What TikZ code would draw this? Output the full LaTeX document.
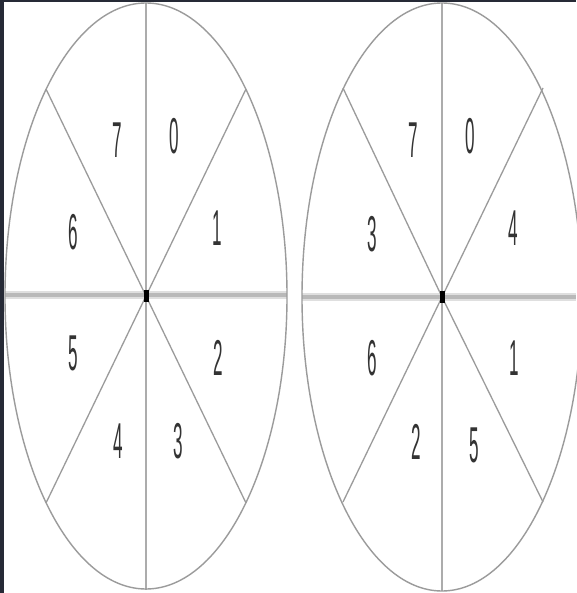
\documentclass[tikz,border=0pt]{standalone}
\usepackage{fontspec}
\setmainfont{Liberation Sans}
\definecolor{frame}{RGB}{38,42,54}
\definecolor{rim}{RGB}{155,155,155}
\definecolor{axis}{RGB}{172,172,172}
\begin{document}
\begin{tikzpicture}[x=1pt,y=-1pt,
  rimline/.style={draw=rim,line width=1.4pt},
  spoke/.style={draw=rim,line width=1.3pt},
  vline/.style={draw=axis,line width=2pt},
  hband/.style={draw=gray!25,line width=8pt},
  hcore/.style={draw=gray!55,line width=4pt},
  hub/.style={fill=black,draw=none,minimum width=5pt,minimum height=12pt,inner sep=0pt},
  digit/.style={font=\fontsize{18}{18}\selectfont,text=black!80,xscale=0.95,yscale=2.8,transform shape,inner sep=0pt}]
  \useasboundingbox (0,0) rectangle (576,593);
  \fill[white] (0,0) rectangle (576,593);
  % left disc
  \coordinate (cl) at (146,296);
  \draw[hband] (5,295) -- (287,295);
  \draw[hcore] (5,295) -- (287,295);
  \draw[vline] (146,3) -- (146,590);
  \draw[spoke] (cl) -- ++(-100,-207);
  \draw[spoke] (cl) -- ++(100,-207);
  \draw[spoke] (cl) -- ++(-100,207);
  \draw[spoke] (cl) -- ++(100,207);
  \draw[rimline] (cl) ellipse [x radius=141pt,y radius=293pt];
  \node[hub] (hl) at (cl) {};
  \node[digit] (l7) at (117,140) {7};
  \node[digit] (l0) at (174,136) {0};
  \node[digit] (l6) at (73,232) {6};
  \node[digit] (l1) at (217,228) {1};
  \node[digit] (l5) at (73,353) {5};
  \node[digit] (l2) at (218,358) {2};
  \node[digit] (l4) at (118,441) {4};
  \node[digit] (l3) at (178,441) {3};
  % right disc
  \coordinate (cr) at (442,297);
  \draw[hband] (302,297) -- (576,297);
  \draw[hcore] (302,297) -- (576,297);
  \draw[vline] (442,3) -- (442,591);
  \draw[spoke] (cr) -- ++(-99,-209);
  \draw[spoke] (cr) -- ++(101,-209);
  \draw[spoke] (cr) -- ++(-99,205);
  \draw[spoke] (cr) -- ++(101,205);
  \draw[rimline] (cr) ellipse [x radius=140pt,y radius=294pt];
  \node[hub] (hr) at (cr) {};
  \node[digit] (r7) at (413,140) {7};
  \node[digit] (r0) at (470,136) {0};
  \node[digit] (r3) at (372,234) {3};
  \node[digit] (r4) at (513,228) {4};
  \node[digit] (r6) at (372,358) {6};
  \node[digit] (r1) at (514,358) {1};
  \node[digit] (r2) at (416,442) {2};
  \node[digit] (r5) at (474,445) {5};
  % dark frame
  \fill[frame] (0,0) rectangle (4,593);
  \fill[frame] (0,0) rectangle (576,2);
\end{tikzpicture}
\end{document}
